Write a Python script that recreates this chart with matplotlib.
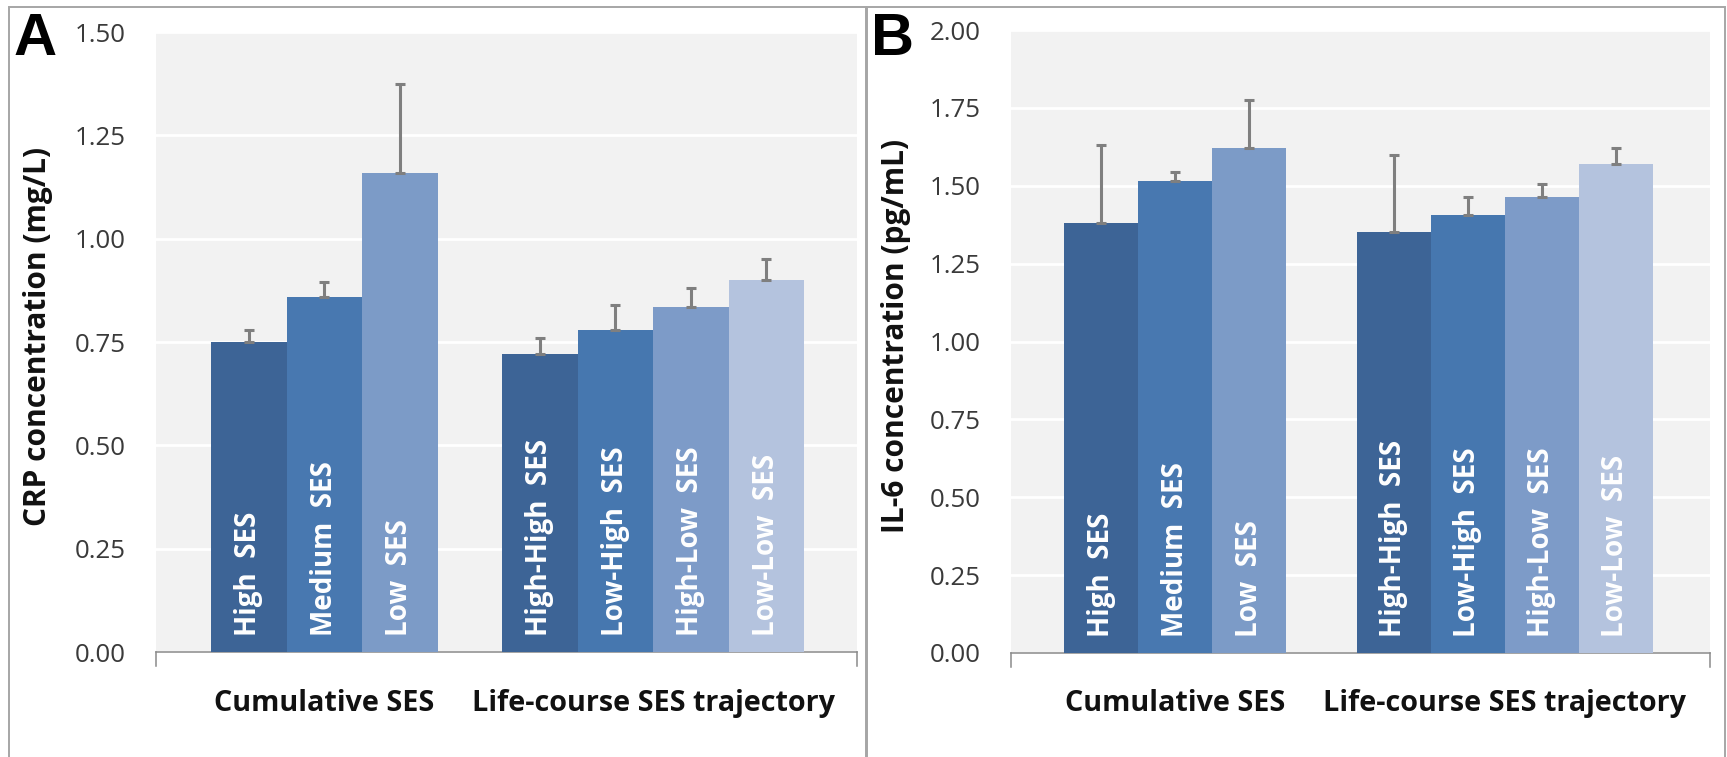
import matplotlib
matplotlib.use("Agg")
import matplotlib.pyplot as plt
import matplotlib.transforms as mtransforms
from matplotlib.patches import Rectangle
import numpy as np

# ---- data -------------------------------------------------------------
group_names = ["Cumulative SES", "Life-course SES trajectory"]
cum_labels = ["High  SES", "Medium  SES", "Low  SES"]
traj_labels = ["High-High  SES", "Low-High  SES", "High-Low  SES", "Low-Low  SES"]

crp_cum = [0.75, 0.86, 1.16]
crp_cum_err = [0.03, 0.035, 0.215]
crp_traj = [0.72, 0.78, 0.835, 0.90]
crp_traj_err = [0.04, 0.06, 0.045, 0.05]

il6_cum = [1.38, 1.515, 1.62]
il6_cum_err = [0.25, 0.03, 0.155]
il6_traj = [1.35, 1.405, 1.465, 1.57]
il6_traj_err = [0.25, 0.06, 0.04, 0.05]

crp_ticks = [0.00, 0.25, 0.50, 0.75, 1.00, 1.25, 1.50]
il6_ticks = [0.00, 0.25, 0.50, 0.75, 1.00, 1.25, 1.50, 1.75, 2.00]

# ---- style ------------------------------------------------------------
cum_colors = ["#3D6496", "#4878B0", "#7C9BC7"]
traj_colors = ["#3D6496", "#4677AF", "#7D9BC8", "#B4C3DE"]
plot_bg = "#F2F2F2"
err_color = "#7F7F7F"
FONT = "Open Sans"

W, H, DPI = 1727, 757, 100
fig = plt.figure(figsize=(W / DPI, H / DPI), dpi=DPI)
fig.patch.set_facecolor("white")


def px_box(left, top, right, bottom):
    return [left / W, 1 - bottom / H, (right - left) / W, (bottom - top) / H]


def draw_panel(box, gap, xlim, values_cum, err_cum, values_traj, err_traj,
               ticks, ylabel, ylabel_xy, letter, letter_xy):
    ax = fig.add_axes(box)
    ax.set_facecolor(plot_bg)

    x_cum = np.arange(len(values_cum), dtype=float)
    x_traj = gap + np.arange(len(values_traj), dtype=float)

    xs = np.concatenate([x_cum, x_traj])
    vals = list(values_cum) + list(values_traj)
    errs = list(err_cum) + list(err_traj)
    cols = cum_colors + traj_colors
    labs = cum_labels + traj_labels

    ax.bar(xs, vals, width=1.0, color=cols, zorder=3, linewidth=0)
    ax.errorbar(xs, vals, yerr=[np.zeros(len(errs)), errs], fmt="none",
                ecolor=err_color, elinewidth=2.2, capsize=3.6, capthick=2.2,
                zorder=4)

    for x, lab in zip(xs, labs):
        ax.annotate(lab, xy=(x, 0), xytext=(0, 11.5), textcoords="offset points",
                    rotation=90, ha="center", va="bottom", color="white",
                    fontsize=20, fontweight="bold", family=FONT, zorder=5)

    ax.set_xlim(*xlim)
    ax.set_ylim(ticks[0], ticks[-1])
    ax.set_yticks(ticks)
    ax.set_yticklabels([f"{t:.2f}" for t in ticks], family=FONT,
                       fontsize=18.6, color="#3A3A3A")
    ax.tick_params(axis="y", length=0, pad=22)
    ax.set_xticks([])
    ax.grid(axis="y", color="white", linewidth=2.0, zorder=1)
    ax.set_axisbelow(True)

    for side in ("top", "right", "left"):
        ax.spines[side].set_visible(False)
    ax.spines["bottom"].set_color("#8A8A8A")
    ax.spines["bottom"].set_linewidth(1.1)

    # small tick marks at the two ends of the category axis
    for xe in xlim:
        ax.plot([xe, xe], [0, -0.022 * (ticks[-1] - ticks[0])],
                color="#8A8A8A", lw=1.1, clip_on=False, zorder=2)

    # group names under the axis
    trans = mtransforms.blended_transform_factory(ax.transData, fig.transFigure)
    centers = [x_cum.mean(), x_traj.mean()]
    for c, name in zip(centers, group_names):
        ax.text(c, 1 - 711 / H, name, transform=trans, ha="center",
                va="baseline", fontsize=20.7, fontweight="bold", family=FONT,
                color="#111111")

    fig.text(ylabel_xy[0] / W, 1 - ylabel_xy[1] / H, ylabel, rotation=90,
             ha="center", va="center", fontsize=21.5, fontweight="bold",
             family=FONT, color="#111111")
    fig.text(letter_xy[0] / W, 1 - letter_xy[1] / H, letter, ha="left",
             va="baseline", fontsize=43, fontweight="bold",
             family="Liberation Sans", color="black")
    return ax


# panel frames
for (l, r) in ((9, 866), (867, 1725)):
    fig.add_artist(Rectangle((l / W, -0.05), (r - l) / W, 1 - 7 / H + 0.05,
                             transform=fig.transFigure, fill=False,
                             edgecolor="#A6A6A6", linewidth=1.4))

draw_panel(px_box(156, 32, 857, 652), gap=3.85, xlim=(-1.23, 8.05),
           values_cum=crp_cum, err_cum=crp_cum_err,
           values_traj=crp_traj, err_traj=crp_traj_err,
           ticks=crp_ticks, ylabel="CRP concentration (mg/L)",
           ylabel_xy=(38, 336), letter="A", letter_xy=(14, 55))

draw_panel(px_box(1011, 30, 1710, 653), gap=3.95, xlim=(-1.22, 8.22),
           values_cum=il6_cum, err_cum=il6_cum_err,
           values_traj=il6_traj, err_traj=il6_traj_err,
           ticks=il6_ticks, ylabel="IL-6 concentration (pg/mL)",
           ylabel_xy=(896, 336), letter="B", letter_xy=(871, 55))

fig.savefig("out.png", dpi=DPI, facecolor="white")
